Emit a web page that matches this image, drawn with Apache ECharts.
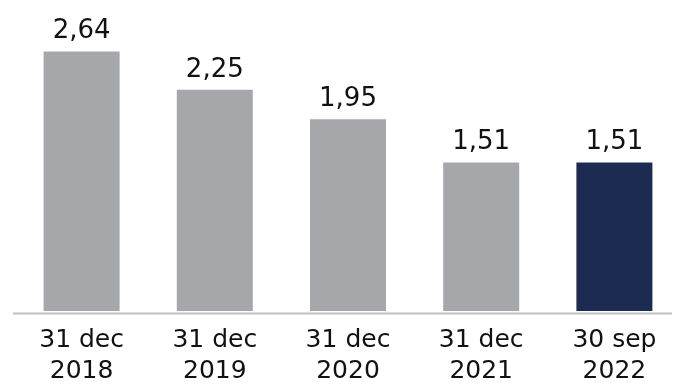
<!DOCTYPE html>
<html>
<head>
<meta charset="utf-8">
<script src="https://cdn.jsdelivr.net/npm/echarts@6/dist/echarts.min.js"></script>
<style>
  html, body { margin: 0; padding: 0; background: #ffffff; }
  #chart { width: 681px; height: 387px; }
</style>
</head>
<body>
<div id="chart"></div>
<script>
// Period-end dates (two-line labels) and the ratio at each date
var categories = ['31 dec\n2018', '31 dec\n2019', '31 dec\n2020', '31 dec\n2021', '30 sep\n2022'];
var values = [2.64, 2.25, 1.95, 1.51, 1.51];
// The latest reporting period is highlighted
var highlighted = [false, false, false, false, true];

var GREY = '#a6a7ab';
var NAVY = '#1c2b51';

var chart = echarts.init(document.getElementById('chart'), null, { renderer: 'canvas' });

var gridTop = 16, gridBottom = 74, gridLeft = 15, gridRight = -4;

chart.setOption({
  animation: false,
  backgroundColor: '#ffffff',
  grid: { top: gridTop, bottom: gridBottom, left: gridLeft, right: gridRight, containLabel: false },
  xAxis: {
    type: 'category',
    data: categories,
    axisLine: { show: false },
    axisTick: { show: false },
    axisLabel: {
      color: '#111111',
      fontFamily: 'DejaVu Sans',
      fontSize: 25,
      lineHeight: 31,
      margin: 14,
      interval: 0
    }
  },
  yAxis: {
    type: 'value',
    min: 0,
    max: 3,
    show: false,
    splitLine: { show: false }
  },
  series: [{
    type: 'bar',
    barWidth: 76,
    data: values.map(function (v, i) {
      return { value: v, itemStyle: { color: highlighted[i] ? NAVY : GREY } };
    }),
    label: {
      show: true,
      position: 'top',
      distance: 7,
      color: '#111111',
      fontFamily: 'DejaVu Sans',
      fontSize: 26,
      formatter: function (p) { return p.value.toFixed(2).replace('.', ','); }
    }
  }],
  graphic: [{
    // baseline under the bars
    type: 'rect',
    shape: { x: 13, y: 387 - gridBottom - 0.5, width: 659, height: 2 },
    style: { fill: '#bfbfbf' },
    z: 1
  }]
});
</script>
</body>
</html>
